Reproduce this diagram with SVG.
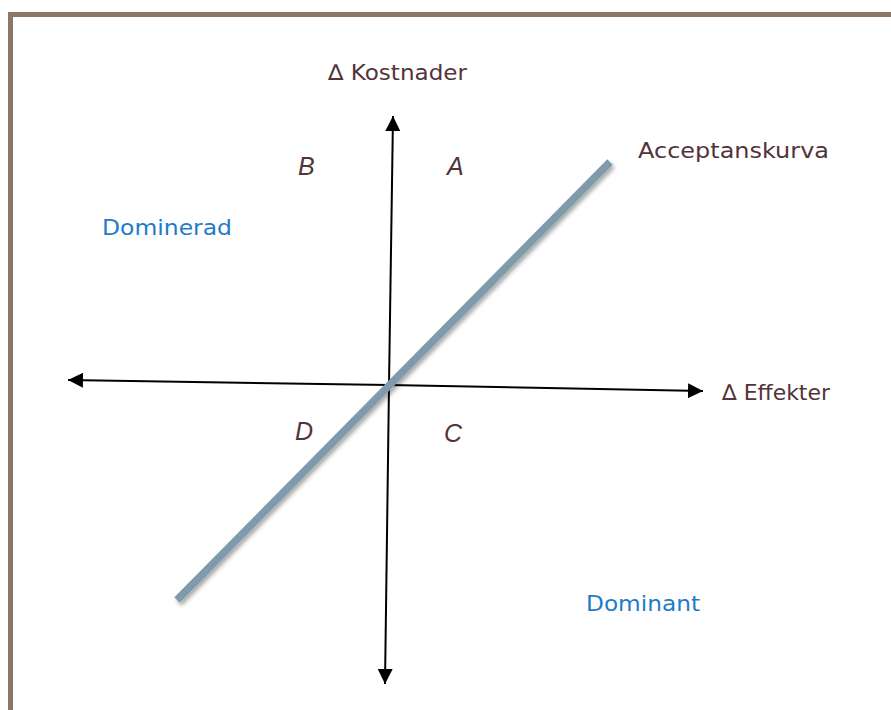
<svg xmlns="http://www.w3.org/2000/svg" width="891" height="710" viewBox="0 0 891 710">
<defs>
<style>
.lbl{font-family:"DejaVu Sans","Liberation Sans",sans-serif;font-size:22px;fill:#52343a}
.it{font-family:"Liberation Sans","DejaVu Sans",sans-serif;font-style:italic;font-size:25px}
.blue{fill:#1f7bc8}
.axis{stroke:#000;stroke-width:2;fill:none}
</style>
<marker id="arr" viewBox="0 0 10 10" refX="10" refY="5" markerWidth="15" markerHeight="15" markerUnits="userSpaceOnUse" orient="auto">
<path d="M0,0 L10,5 L0,10 z" fill="#000"/>
</marker>
<filter id="sh" x="-10%" y="-10%" width="130%" height="130%">
<feDropShadow dx="2" dy="3" stdDeviation="2" flood-color="#000" flood-opacity="0.35"/>
</filter>
</defs>
<rect width="891" height="710" fill="#fff"/>
<path d="M10.5,710 V14.5 H891" fill="none" stroke="#8b7765" stroke-width="5"/>
<g id="connectors">
<line class="axis" x1="389" y1="385" x2="393" y2="116" marker-end="url(#arr)"/>
<line class="axis" x1="389" y1="385" x2="385" y2="684" marker-end="url(#arr)"/>
<line class="axis" x1="389" y1="385" x2="68" y2="380" marker-end="url(#arr)"/>
<line class="axis" x1="389" y1="385" x2="703" y2="391" marker-end="url(#arr)"/>
</g>
<g id="acceptanskurva-line">
<line x1="177" y1="600" x2="610" y2="162" stroke="#7e9aab" stroke-width="7.5" filter="url(#sh)"/>
</g>
<g id="kostnader"><text class="lbl" x="328" y="80" textLength="139" lengthAdjust="spacingAndGlyphs">∆ Kostnader</text></g>
<g id="effekter"><text class="lbl" x="722" y="400" textLength="108" lengthAdjust="spacingAndGlyphs">∆ Effekter</text></g>
<g id="acceptanskurva"><text class="lbl" x="638" y="158" textLength="191" lengthAdjust="spacingAndGlyphs">Acceptanskurva</text></g>
<g id="quadA"><text class="lbl it" x="447" y="175">A</text></g>
<g id="quadB"><text class="lbl it" x="298" y="175">B</text></g>
<g id="quadC"><text class="lbl it" x="444" y="442">C</text></g>
<g id="quadD"><text class="lbl it" x="295" y="440">D</text></g>
<g id="dominerad"><text class="lbl blue" x="102" y="235" textLength="130" lengthAdjust="spacingAndGlyphs">Dominerad</text></g>
<g id="dominant"><text class="lbl blue" x="586" y="611" textLength="114" lengthAdjust="spacingAndGlyphs">Dominant</text></g>
</svg>
